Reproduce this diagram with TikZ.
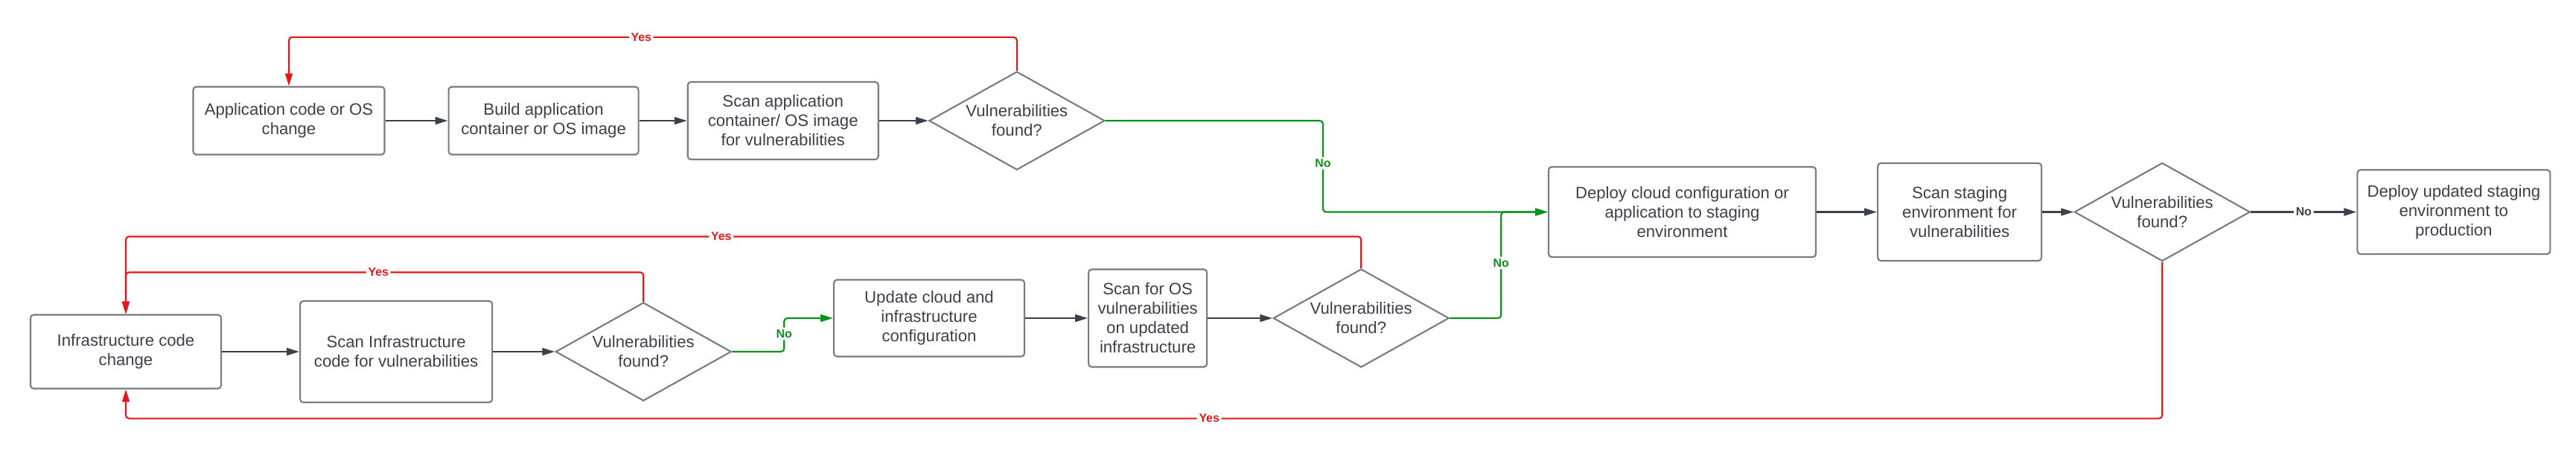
\documentclass[tikz,border=0pt]{standalone}
\usepackage{fontspec}
\setmainfont{Liberation Sans}
\usepackage{tikz}
\usetikzlibrary{shapes.geometric, arrows.meta, positioning, calc}
\definecolor{mydark}{RGB}{58,65,74}
\definecolor{boxgray}{RGB}{118,124,132}
\definecolor{myred}{RGB}{232,22,22}
\definecolor{mygreen}{RGB}{10,145,25}
\tikzset{
  block/.style={rectangle, draw=boxgray, fill=white, text=mydark,
    align=center, font=\fontsize{6.3}{7.4}\selectfont,
    rounded corners=1.2pt, line width=0.6pt, inner sep=1pt},
  decision/.style={diamond, draw=boxgray, fill=white, text=mydark,
    align=center, aspect=1.79, inner sep=0pt,
    minimum width=2.36cm, minimum height=1.32cm,
    font=\fontsize{6.3}{7.4}\selectfont, line width=0.6pt},
  arrow/.style={-{Triangle[length=4.8pt, width=2.8pt]}, line width=0.6pt,
    color=mydark, rounded corners=1.2pt},
  redarrow/.style={-{Triangle[length=4.8pt, width=2.8pt]}, line width=0.6pt,
    color=myred, rounded corners=1.2pt},
  greenarrow/.style={-{Triangle[length=4.8pt, width=2.8pt]}, line width=0.6pt,
    color=mygreen, rounded corners=1.2pt},
  yeslabel/.style={font=\bfseries\fontsize{4.5}{5}\selectfont, text=myred,
    fill=white, inner sep=0.8pt},
  nolabel/.style={font=\bfseries\fontsize{4.5}{5}\selectfont, text=mygreen,
    fill=white, inner sep=0.8pt},
  nodarklabel/.style={font=\bfseries\fontsize{4.5}{5}\selectfont, text=mydark,
    fill=white, inner sep=0.8pt}
}
\begin{document}
\begin{tikzpicture}
  \useasboundingbox (0,0) rectangle (34.6,-6.12);

  % Application pipeline
  \node[block, minimum width=2.57cm, minimum height=0.91cm] (appchange) at (3.88,-1.62) {Application code or OS\\change};
  \node[block, right=0.84cm of appchange, minimum width=2.55cm, minimum height=0.91cm] (buildimg) {Build application\\container or OS image};
  \node[block, right=0.64cm of buildimg, minimum width=2.56cm, minimum height=1.04cm] (scanimg) {Scan application\\container/ OS image\\for vulnerabilities};
  \node[decision, right=0.66cm of scanimg] (vuln1) {Vulnerabilities\\found?};

  % Staging and production
  \node[block, minimum width=3.59cm, minimum height=1.21cm] (deploystage) at (22.595,-2.845) {Deploy cloud configuration or\\application to staging\\environment};
  \node[block, right=0.81cm of deploystage, minimum width=2.2cm, minimum height=1.31cm] (scanstage) {Scan staging\\environment for\\vulnerabilities};
  \node[decision, right=0.42cm of scanstage] (vuln4) {Vulnerabilities\\found?};
  \node[block, right=1.42cm of vuln4, minimum width=2.59cm, minimum height=1.13cm] (deployprod) {Deploy updated staging\\environment to\\production};

  % Infrastructure pipeline
  \node[block, minimum width=2.56cm, minimum height=0.99cm] (infrachange) at (1.69,-4.72) {Infrastructure code\\change};
  \node[block, right=1.04cm of infrachange, minimum width=2.58cm, minimum height=1.36cm] (scaninfra) {Scan Infrastructure\\code for vulnerabilities};
  \node[decision, right=0.83cm of scaninfra] (vuln2) {Vulnerabilities\\found?};
  \node[block, minimum width=2.56cm, minimum height=1.03cm] (updcloud) at (12.48,-4.27) {Update cloud and\\infrastructure\\configuration};
  \node[block, right=0.84cm of updcloud, minimum width=1.59cm, minimum height=1.31cm] (scanos) {Scan for OS\\vulnerabilities\\on updated\\infrastructure};
  \node[decision, right=0.87cm of scanos] (vuln3) {Vulnerabilities\\found?};

  % Arrows
  \draw[arrow] (appchange) -- (buildimg);
  \draw[arrow] (buildimg) -- (scanimg);
  \draw[arrow] (scanimg) -- (vuln1);
  \draw[arrow] (deploystage) -- (scanstage);
  \draw[arrow] (scanstage) -- (vuln4);
  \draw[arrow, line width=0.9pt] (vuln4) -- node[nodarklabel] {No} (deployprod);
  \draw[arrow] (infrachange) -- (scaninfra);
  \draw[arrow] (scaninfra) -- (vuln2);
  \draw[arrow] (updcloud) -- (scanos);
  \draw[arrow] (scanos) -- (vuln3);

  % Yes loops
  \draw[redarrow] (vuln1.north) -- ++(0,0.45) -| node[yeslabel, pos=0.258] {Yes} (appchange.north);
  \draw[redarrow] (vuln3.north) -- ++(0,0.425) -| node[yeslabel, pos=0.259] {Yes} (infrachange.north);
  \draw[redarrow] (vuln2.north) -- ++(0,0.395) -| node[yeslabel, pos=0.256] {Yes} (infrachange.north);
  \draw[redarrow] (vuln4.south) -- ++(0,-2.1) -| node[yeslabel, pos=0.234] {Yes} (infrachange.south);

  % No branches
  \draw[greenarrow] (vuln1.east) -| node[nolabel, pos=0.733] {No} ($(deploystage.west)+(-3.02,0)$) -- (deploystage.west);
  \draw[greenarrow] (vuln3.east) -- ++(0.69,0) |- node[nolabel, pos=0.26] {No} (deploystage.west);
  \draw[greenarrow] (vuln2.east) -- ++(0.7,0) |- node[nolabel, pos=0.267] {No} (updcloud.west);
\end{tikzpicture}
\end{document}
